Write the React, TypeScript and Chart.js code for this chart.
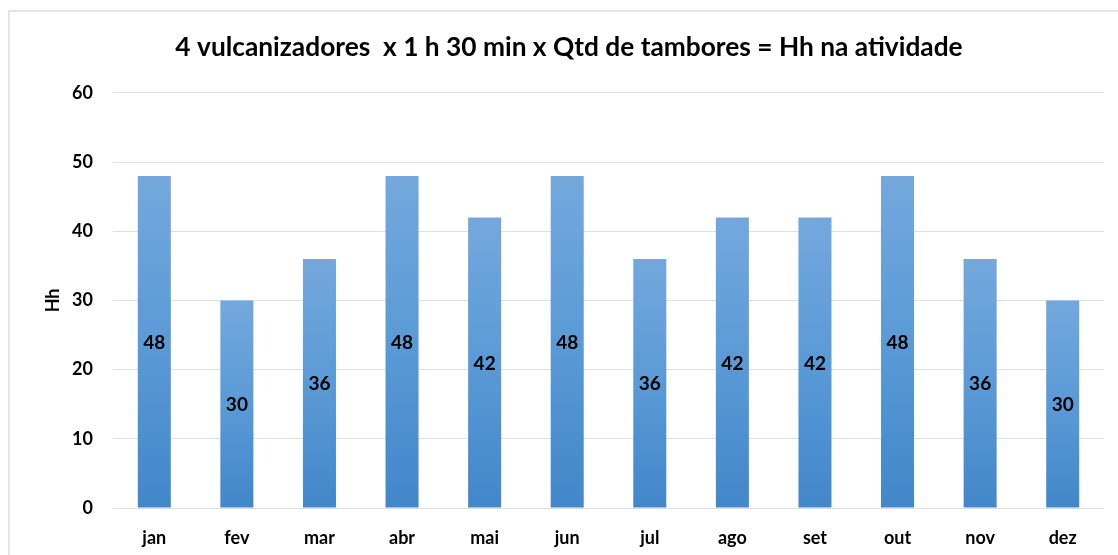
import React, { useEffect, useRef } from 'react';
import { Chart, registerables } from 'chart.js';

Chart.register(...registerables);

const months = ['jan', 'fev', 'mar', 'abr', 'mai', 'jun', 'jul', 'ago', 'set', 'out', 'nov', 'dez'];
const hhValues = [48, 30, 36, 48, 42, 48, 36, 42, 42, 48, 36, 30];
const yMin = 0;
const yMax = 60;
const yStep = 10;
const chartTitle = '4 vulcanizadores  x 1 h 30 min x Qtd de tambores = Hh na atividade';
const yAxisTitle = 'Hh';

const FONT = 'Lato';

const centerLabels = {
  id: 'centerLabels',
  afterDatasetsDraw(chart: any) {
    const ctx = chart.ctx;
    const meta = chart.getDatasetMeta(0);
    ctx.save();
    ctx.font = `bold 19px ${FONT}`;
    ctx.fillStyle = '#000';
    ctx.textAlign = 'center';
    ctx.textBaseline = 'middle';
    meta.data.forEach((el: any, i: number) => {
      const p = el.getProps(['x', 'y', 'base'], true);
      ctx.fillText(String(hhValues[i]), p.x, (p.y + p.base) / 2 + 1);
    });
    ctx.restore();
  },
};

export default function App() {
  const ref = useRef<HTMLCanvasElement | null>(null);

  useEffect(() => {
    if (!ref.current) return;
    const chart = new Chart(ref.current, {
      type: 'bar',
      data: {
        labels: months,
        datasets: [
          {
            data: hhValues,
            backgroundColor: (c: any) => {
              const ch = c.chart;
              if (!ch.chartArea || c.dataIndex == null || !ch.scales.y) return '#5b9bd5';
              const ys = ch.scales.y;
              const top = ys.getPixelForValue(hhValues[c.dataIndex]);
              const bottom = ys.getPixelForValue(0);
              const g = ch.ctx.createLinearGradient(0, top, 0, bottom);
              g.addColorStop(0, '#74a8dd');
              g.addColorStop(0.5, '#5a9ad6');
              g.addColorStop(1, '#4287ca');
              return g;
            },
            borderWidth: 0,
            categoryPercentage: 1,
            barPercentage: 0.4,
          },
        ],
      },
      options: {
        animation: false,
        responsive: false,
        maintainAspectRatio: false,
        layout: { padding: { left: 34, right: 14, top: 0, bottom: 0 } },
        plugins: {
          legend: { display: false },
          tooltip: { enabled: false },
          title: {
            display: true,
            text: chartTitle,
            color: '#000',
            font: { family: FONT, size: 26.3, weight: 'bold', lineHeight: 1.2 },
            padding: { top: 31.3, bottom: 30 },
          },
        },
        scales: {
          x: {
            grid: { display: false, drawTicks: false },
            border: { display: false },
            ticks: {
              color: '#000',
              padding: 19,
              font: { family: FONT, size: 18, weight: 'bold' },
            },
            afterFit: (s: any) => {
              s.height = 47;
            },
          },
          y: {
            min: yMin,
            max: yMax,
            grid: { color: '#dcdfe6', lineWidth: 1, drawTicks: false },
            border: { display: false },
            ticks: {
              stepSize: yStep,
              color: '#000',
              padding: 20,
              font: { family: FONT, size: 18, weight: 'bold' },
            },
            title: {
              display: true,
              text: yAxisTitle,
              color: '#000',
              font: { family: FONT, size: 18, weight: 'bold', lineHeight: 1.2 },
              padding: { top: 8, bottom: 0 },
            },
            afterFit: (s: any) => {
              s.width = 79;
            },
          },
        },
      },
      plugins: [centerLabels],
    });
    return () => chart.destroy();
  }, []);

  return (
    <div>
      <div
        style={{
          position: 'absolute',
          left: 8,
          top: 10,
          width: 1110,
          height: 545,
          boxSizing: 'border-box',
          borderTop: '2px solid #e2e5eb',
          borderLeft: '2px solid #e2e5eb',
          background: '#fff',
        }}
      />
      <canvas
        ref={ref}
        width={1118}
        height={555}
        style={{ position: 'absolute', left: 0, top: 0, width: 1118, height: 555 }}
      />
    </div>
  );
}
